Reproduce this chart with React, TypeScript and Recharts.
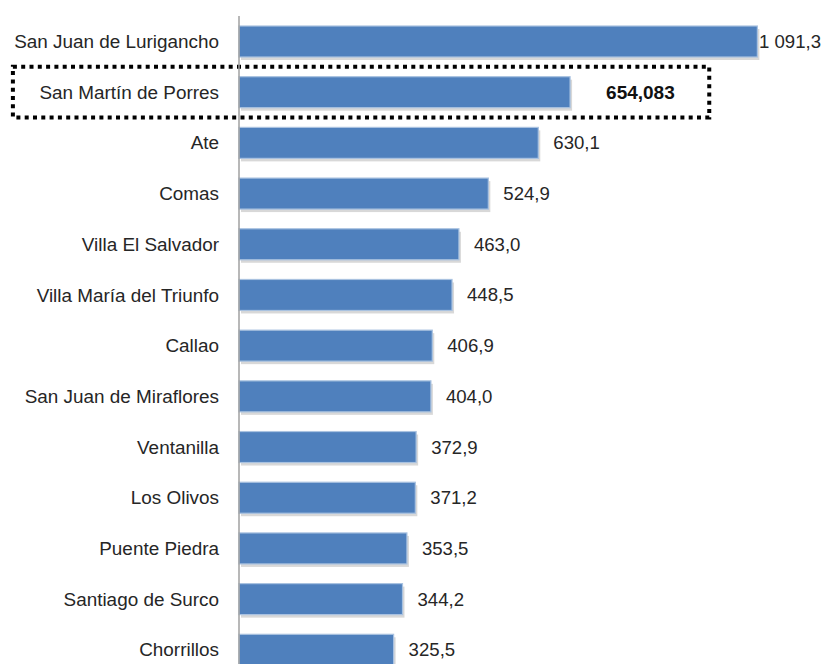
import React from "react";
import { BarChart, Bar, XAxis, YAxis, LabelList, ReferenceArea } from "recharts";

const districts = [
  "San Juan de Lurigancho",
  "San Martín de Porres",
  "Ate",
  "Comas",
  "Villa El Salvador",
  "Villa María del Triunfo",
  "Callao",
  "San Juan de Miraflores",
  "Ventanilla",
  "Los Olivos",
  "Puente Piedra",
  "Santiago de Surco",
  "Chorrillos",
];

const barValues = [1091.3, 697, 630.1, 524.9, 463.0, 448.5, 406.9, 404.0, 372.9, 371.2, 353.5, 344.2, 325.5];

const valueLabels = ["1 091,3", "654,083", "630,1", "524,9", "463,0", "448,5", "406,9", "404,0", "372,9", "371,2", "353,5", "344,2", "325,5"];

const highlighted = "San Martín de Porres";

const xDomain = [0, 1200];
const highlightFrom = -476;
const highlightTo = 990;

const data = districts.map((name, i) => ({ name, value: barValues[i], label: valueLabels[i] }));

const W = 826;
const H = 680;
const FONT = "'Liberation Sans', Arial, sans-serif";

const BarShape = (props: any) => {
  const { x, y, width, height } = props;
  if (width <= 0) return null;
  return (
    <g>
      <rect x={x + 2} y={y + 3} width={width} height={height} fill="#c8c8c8" opacity={0.7} />
      <rect x={x} y={y} width={width} height={height} fill="#4F80BD" stroke="#A9C2E0" strokeWidth={1.2} />
    </g>
  );
};

const ValueLabel = (props: any) => {
  const { x, y, width, height, value, index } = props;
  const isHi = districts[index] === highlighted;
  const end = x + width;
  const cy = y + height / 2;
  if (isHi) {
    return (
      <text x={end + 36} y={cy} dy="0.35em" fill="#111" fontFamily={FONT} fontSize={19} fontWeight="bold">
        {value}
      </text>
    );
  }
  const lx = Math.min(end + 15, W - 67);
  return (
    <text x={lx} y={cy} dy="0.35em" fill="#262626" fontFamily={FONT} fontSize={18.6}>
      {value}
    </text>
  );
};

export default function App() {
  return (
    <div style={{ position: "fixed", left: 0, top: 0, width: W, height: 664, overflow: "hidden", background: "#fff" }}>
      <BarChart
        width={W}
        height={H}
        data={data}
        layout="vertical"
        margin={{ top: 16, right: 17, bottom: 5, left: 0 }}
        barSize={31}
      >
        <XAxis type="number" domain={xDomain} hide />
        <YAxis
          type="category"
          dataKey="name"
          width={239}
          tickLine={false}
          tickSize={0}
          tickMargin={20}
          axisLine={{ stroke: "#A0A0A0", strokeWidth: 1.5 }}
          tick={{ fill: "#262626", fontSize: 18.9, fontFamily: FONT }}
          interval={0}
        />
        <Bar dataKey="value" shape={<BarShape />} isAnimationActive={false}>
          <LabelList dataKey="label" content={<ValueLabel />} />
        </Bar>
        <ReferenceArea
          y1={highlighted}
          y2={highlighted}
          x1={highlightFrom}
          x2={highlightTo}
          ifOverflow="visible"
          fill="none"
          stroke="#000"
          strokeWidth={4}
          strokeDasharray="4 4.3"
        />
      </BarChart>
    </div>
  );
}
